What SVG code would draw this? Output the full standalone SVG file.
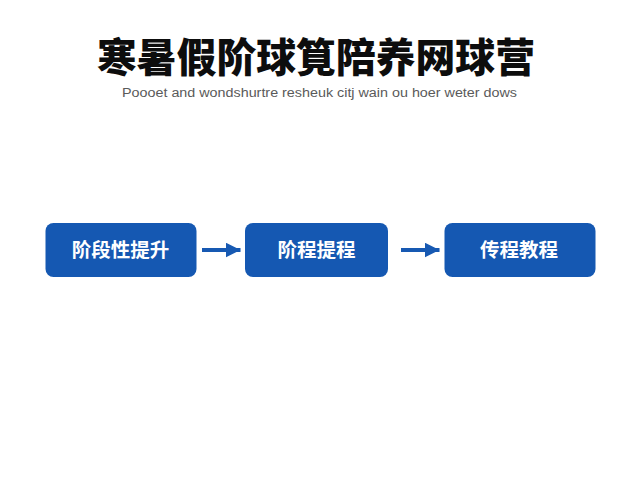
<svg xmlns="http://www.w3.org/2000/svg" width="640" height="480" viewBox="0 0 640 480">
  <style>
    .title { font-family: "Noto Sans CJK SC", "Noto Sans CJK JP", sans-serif; font-weight: 900; font-size: 40px; fill: #0d0d0d; }
    .sub { font-family: "Liberation Sans", Arial, sans-serif; font-size: 12px; fill: #5a5a5a; }
    .box { fill: #1558b2; }
    .label { font-family: "Noto Sans CJK SC", "Noto Sans CJK JP", sans-serif; font-weight: 700; font-size: 19.5px; fill: #ffffff; }
    .conn { stroke: #1759b2; stroke-width: 4; fill: none; }
  </style>
  <defs>
    <marker id="arrow" viewBox="0 0 10 10" refX="10" refY="5" markerUnits="userSpaceOnUse" markerWidth="15" markerHeight="15" orient="auto">
      <path d="M0,0 L10,5 L0,10 z" fill="#1759b2"/>
    </marker>
  </defs>
  <rect width="640" height="480" fill="#ffffff"/>
  <g id="title">
    <text class="title" x="316" y="72" text-anchor="middle" textLength="438" lengthAdjust="spacingAndGlyphs">寒暑假阶球筧陪养网球营</text>
    <text class="sub" x="122" y="97" textLength="395" lengthAdjust="spacingAndGlyphs">Poooet and wondshurtre resheuk citj wain ou hoer weter dows</text>
  </g>
  <g id="node1">
    <rect class="box" x="45.5" y="223" width="151" height="54" rx="8"/>
    <text class="label" x="120.5" y="257" text-anchor="middle">阶段性提升</text>
  </g>
  <g id="node2">
    <rect class="box" x="245" y="223" width="143" height="54" rx="8"/>
    <text class="label" x="316.5" y="257" text-anchor="middle">阶程提程</text>
  </g>
  <g id="node3">
    <rect class="box" x="444.5" y="223" width="151" height="54" rx="8"/>
    <text class="label" x="519" y="257" text-anchor="middle">传程教程</text>
  </g>
  <g id="connectors">
    <line class="conn" x1="202" y1="250" x2="240.5" y2="250" marker-end="url(#arrow)"/>
    <line class="conn" x1="401" y1="250" x2="439.5" y2="250" marker-end="url(#arrow)"/>
  </g>
</svg>
